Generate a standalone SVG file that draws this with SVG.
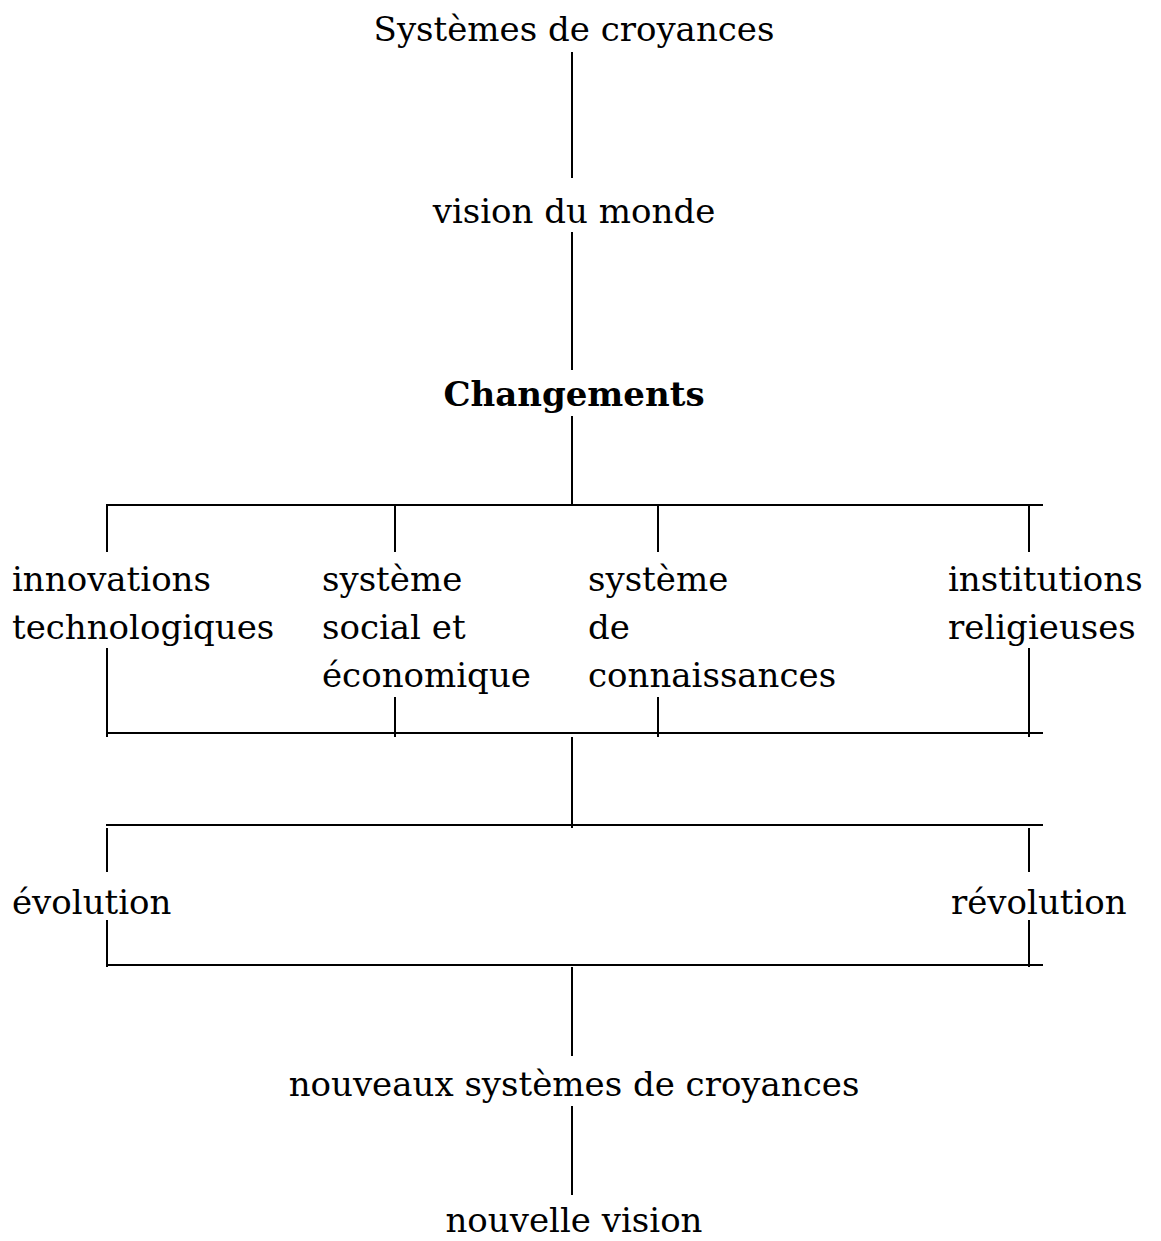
<svg xmlns="http://www.w3.org/2000/svg" width="1161" height="1241" viewBox="0 0 1161 1241">
<style>
text{font-family:"DejaVu Serif","Liberation Serif",serif;font-size:34px;fill:#000}
.c{text-anchor:middle}
.b{font-weight:bold}
line{stroke:#000;stroke-width:2}
</style>
<rect width="1161" height="1241" fill="#fff"/>
<g id="connectors">
<line x1="572" y1="52" x2="572" y2="178"/>
<line x1="572" y1="232" x2="572" y2="370"/>
<line x1="572" y1="416" x2="572" y2="505"/>
<line x1="106" y1="505" x2="1043" y2="505"/>
<line x1="107" y1="505" x2="107" y2="552"/>
<line x1="395" y1="505" x2="395" y2="552"/>
<line x1="658" y1="505" x2="658" y2="552"/>
<line x1="1029" y1="505" x2="1029" y2="552"/>
<line x1="107" y1="648" x2="107" y2="737"/>
<line x1="395" y1="697" x2="395" y2="737"/>
<line x1="658" y1="697" x2="658" y2="737"/>
<line x1="1029" y1="648" x2="1029" y2="737"/>
<line x1="106" y1="733" x2="1043" y2="733"/>
<line x1="572" y1="737" x2="572" y2="828"/>
<line x1="106" y1="825" x2="1043" y2="825"/>
<line x1="107" y1="828" x2="107" y2="872"/>
<line x1="1029" y1="828" x2="1029" y2="872"/>
<line x1="107" y1="920" x2="107" y2="967"/>
<line x1="1029" y1="920" x2="1029" y2="967"/>
<line x1="106" y1="965" x2="1043" y2="965"/>
<line x1="572" y1="967" x2="572" y2="1056"/>
<line x1="572" y1="1106" x2="572" y2="1195"/>
</g>
<g id="n1"><text class="c" x="574" y="41">Systèmes de croyances</text></g>
<g id="n2"><text class="c" x="574" y="223">vision du monde</text></g>
<g id="n3"><text class="c b" x="574" y="406">Changements</text></g>
<g id="n4"><text x="12" y="591">innovations</text><text x="12" y="639">technologiques</text></g>
<g id="n5"><text x="322" y="591">système</text><text x="322" y="639">social et</text><text x="322" y="687">économique</text></g>
<g id="n6"><text x="588" y="591">système</text><text x="588" y="639">de</text><text x="588" y="687">connaissances</text></g>
<g id="n7"><text x="948" y="591">institutions</text><text x="948" y="639">religieuses</text></g>
<g id="n8"><text x="12" y="914">évolution</text></g>
<g id="n9"><text x="951" y="914">révolution</text></g>
<g id="n10"><text class="c" x="574" y="1096">nouveaux systèmes de croyances</text></g>
<g id="n11"><text class="c" x="574" y="1232">nouvelle vision</text></g>
</svg>
